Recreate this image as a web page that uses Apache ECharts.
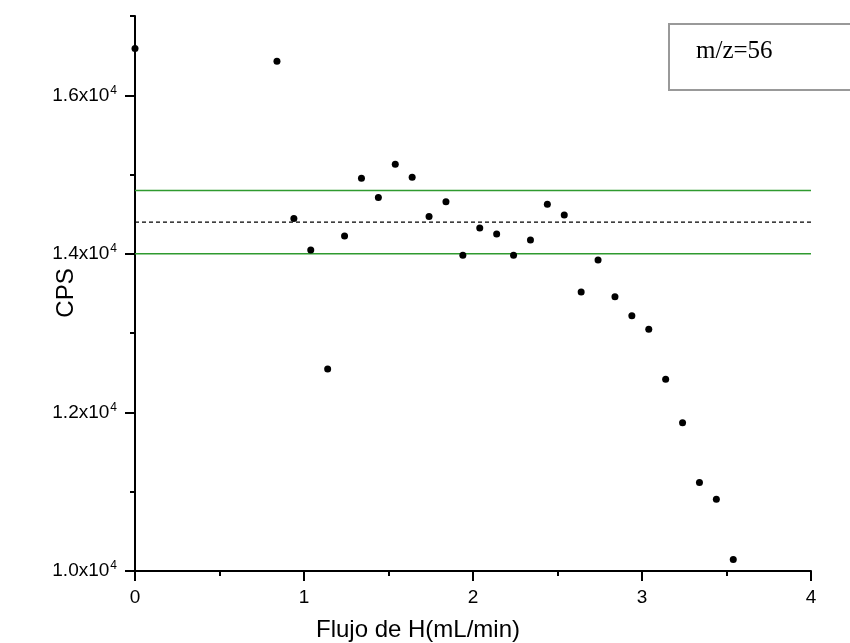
<!DOCTYPE html>
<html><head><meta charset="utf-8">
<script src="https://cdn.jsdelivr.net/npm/echarts@6/dist/echarts.min.js"></script>
<style>html,body{margin:0;padding:0;background:#fff}#c{width:850px;height:643px}</style>
</head><body><div id="c"></div>
<script>
const flowX = [0, 0.84, 0.94, 1.04, 1.14, 1.24, 1.34, 1.44, 1.54, 1.64, 1.74, 1.84, 1.94, 2.04, 2.14, 2.24, 2.34, 2.44, 2.54, 2.64, 2.74, 2.84, 2.94, 3.04, 3.14, 3.24, 3.34, 3.44, 3.54];
const cps = [16590, 16430, 14445, 14049, 12548, 14226, 14954, 14710, 15131, 14967, 14470, 14656, 13981, 14327, 14251, 13981, 14175, 14626, 14491, 13518, 13923, 13458, 13218, 13050, 12418, 11869, 11115, 10904, 10145];
const upperLimit = 14800, meanLevel = 14400, lowerLimit = 14000;
const xMajorTicks = [0, 1, 2, 3, 4];
const xMinorTicks = [0.5, 1.5, 2.5, 3.5];
const yMajorTicks = [10000, 12000, 14000, 16000];
const yMinorTicks = [11000, 13000, 15000, 17000];
const xRange = [0, 4], yRange = [10000, 17000];
const legendText = 'm/z=56';
const xTitle = 'Flujo de H(mL/min)';
const yTitle = 'CPS';

const chart = echarts.init(document.getElementById('c'), null, {renderer: 'canvas'});
const FONT = 'Arial, "Liberation Sans", sans-serif';
function yFmt(v) {
  const m = (v / 10000).toFixed(1);
  return '{a|' + m + 'x10}{b|4}';
}
chart.setOption({
  animation: false,
  grid: {left: 135, right: 39, top: 16, bottom: 72, containLabel: false},
  xAxis: [
    {type: 'value', min: xRange[0], max: xRange[1], position: 'bottom',
     axisLine: {show: true, lineStyle: {color: '#000', width: 2}},
     axisTick: {show: true, length: 10, lineStyle: {color: '#000', width: 2}, customValues: xMajorTicks},
     axisLabel: {show: true, margin: 17, color: '#000', fontSize: 19, fontFamily: FONT, customValues: xMajorTicks},
     splitLine: {show: false}},
    {type: 'value', min: xRange[0], max: xRange[1], position: 'bottom',
     axisLine: {show: false},
     axisTick: {show: true, length: 5, lineStyle: {color: '#000', width: 2}, customValues: xMinorTicks},
     axisLabel: {show: false}, splitLine: {show: false}}
  ],
  yAxis: [
    {type: 'value', min: yRange[0], max: yRange[1], position: 'left',
     axisLine: {show: true, lineStyle: {color: '#000', width: 2}},
     axisTick: {show: true, length: 10, lineStyle: {color: '#000', width: 2}, customValues: yMajorTicks},
     axisLabel: {show: true, margin: 18, color: '#000', formatter: yFmt, customValues: yMajorTicks,
       rich: {a: {fontSize: 19, fontFamily: FONT, color: '#000', lineHeight: 22},
              b: {fontSize: 12, fontFamily: FONT, color: '#000', lineHeight: 14, verticalAlign: 'top', padding: [0, 0, 0, 1]}}},
     splitLine: {show: false}},
    {type: 'value', min: yRange[0], max: yRange[1], position: 'left',
     axisLine: {show: false},
     axisTick: {show: true, length: 5, lineStyle: {color: '#000', width: 2}, customValues: yMinorTicks},
     axisLabel: {show: false}, splitLine: {show: false}}
  ],
  series: [
    {type: 'line', data: [[xRange[0], upperLimit], [xRange[1], upperLimit]], symbol: 'none',
     lineStyle: {color: '#2f9a2f', width: 1.5}, z: 1},
    {type: 'line', data: [[xRange[0], lowerLimit], [xRange[1], lowerLimit]], symbol: 'none',
     lineStyle: {color: '#2f9a2f', width: 1.5}, z: 1},
    {type: 'line', data: [[xRange[0], meanLevel], [xRange[1], meanLevel]], symbol: 'none',
     lineStyle: {color: '#000', width: 1.3, type: [4, 3]}, z: 1},
    {type: 'scatter', data: flowX.map((x, i) => [x, cps[i]]), symbol: 'circle', symbolSize: 7,
     itemStyle: {color: '#000', opacity: 1}, z: 3}
  ],
  graphic: [
    {type: 'rect', shape: {x: 669, y: 24, width: 200, height: 66},
     style: {fill: '#fff', stroke: '#999', lineWidth: 2}, z: 10},
    {type: 'text', x: 696, y: 51, z: 11,
     style: {text: legendText, font: '25px "Liberation Serif", "Times New Roman", serif', fill: '#000', verticalAlign: 'middle', align: 'left'}},
    {type: 'text', x: 418, y: 630, z: 11,
     style: {text: xTitle, font: '24px ' + FONT, fill: '#000', align: 'center', verticalAlign: 'middle'}},
    {type: 'text', x: 66, y: 293, rotation: Math.PI / 2, z: 11,
     style: {text: yTitle, font: '24px ' + FONT, fill: '#000', align: 'center', verticalAlign: 'middle'}}
  ]
});
</script></body></html>
